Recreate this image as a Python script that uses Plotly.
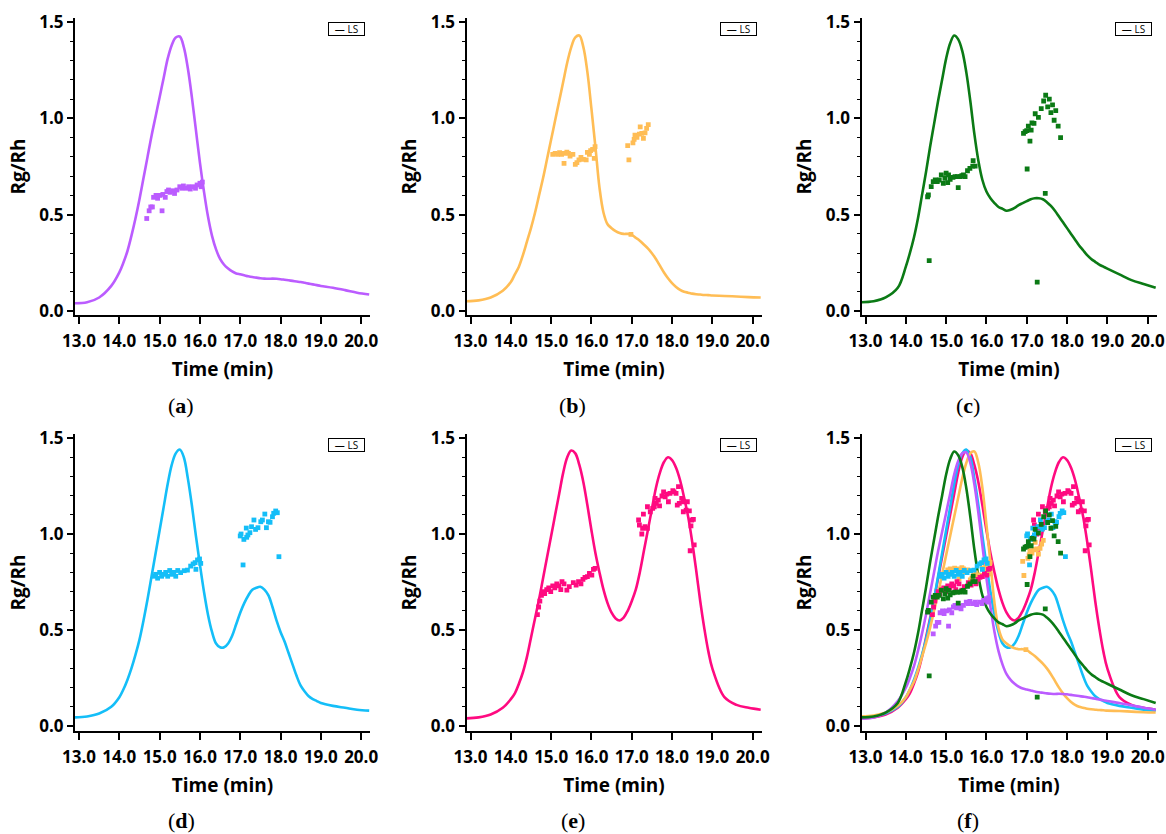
import plotly.graph_objects as go

# ---------------- data ----------------
TIME = [12.9, 13.2, 13.5, 13.8,
        14.0, 14.1, 14.2, 14.3, 14.4, 14.5, 14.6, 14.7, 14.8, 14.9,
        15.0, 15.1, 15.2, 15.3, 15.4, 15.5, 15.6, 15.7, 15.8, 15.9,
        16.0, 16.1, 16.2, 16.3, 16.4, 16.5, 16.6, 16.7, 16.8, 16.9,
        17.0, 17.1, 17.2, 17.3, 17.4, 17.5, 17.6, 17.7, 17.8, 17.9,
        18.0, 18.1, 18.2, 18.3, 18.4, 18.5, 18.6, 18.7, 18.8, 18.9,
        19.0, 19.3, 19.6, 19.9, 20.2]

LS_A = [0.04, 0.045, 0.07, 0.13,
        0.20, 0.25, 0.31, 0.39, 0.48, 0.58, 0.69, 0.80, 0.91, 1.01,
        1.11, 1.21, 1.31, 1.38, 1.42, 1.425, 1.37, 1.26, 1.11, 0.94,
        0.77, 0.62, 0.49, 0.39, 0.32, 0.27, 0.24, 0.22, 0.205, 0.195,
        0.19, 0.185, 0.18, 0.176, 0.173, 0.17, 0.168, 0.167, 0.168, 0.167,
        0.165, 0.162, 0.159, 0.156, 0.153, 0.15, 0.146, 0.142, 0.138, 0.134,
        0.13, 0.12, 0.108, 0.095, 0.085]

LS_B = [0.05, 0.055, 0.07, 0.105,
        0.15, 0.19, 0.23, 0.29, 0.36, 0.43, 0.51, 0.60, 0.69, 0.79,
        0.89, 0.99, 1.09, 1.19, 1.29, 1.37, 1.42, 1.43, 1.37, 1.24,
        1.05, 0.85, 0.64, 0.51, 0.45, 0.43, 0.415, 0.405, 0.40, 0.40,
        0.395, 0.38, 0.365, 0.345, 0.325, 0.30, 0.27, 0.235, 0.20, 0.17,
        0.145, 0.125, 0.11, 0.10, 0.095, 0.09, 0.087, 0.085, 0.083, 0.082,
        0.08, 0.078, 0.075, 0.072, 0.07]

LS_C = [0.045, 0.05, 0.07, 0.12,
        0.23, 0.30, 0.38, 0.48, 0.60, 0.72, 0.85, 0.97, 1.09, 1.20,
        1.31, 1.39, 1.43, 1.41, 1.35, 1.24, 1.09, 0.92, 0.78, 0.68,
        0.62, 0.585, 0.56, 0.54, 0.53, 0.52, 0.525, 0.535, 0.55, 0.56,
        0.57, 0.58, 0.585, 0.585, 0.58, 0.565, 0.545, 0.52, 0.49, 0.46,
        0.43, 0.40, 0.37, 0.34, 0.315, 0.29, 0.27, 0.255, 0.24, 0.23,
        0.22, 0.19, 0.16, 0.14, 0.12]

LS_D = [0.045, 0.05, 0.065, 0.10,
        0.15, 0.19, 0.24, 0.30, 0.37, 0.45, 0.55, 0.66, 0.78, 0.90,
        1.02, 1.14, 1.26, 1.36, 1.42, 1.44, 1.40, 1.29, 1.15, 0.99,
        0.84, 0.70, 0.58, 0.49, 0.43, 0.41, 0.41, 0.43, 0.47, 0.53,
        0.59, 0.64, 0.68, 0.71, 0.72, 0.725, 0.71, 0.68, 0.62, 0.55,
        0.49, 0.44, 0.38, 0.32, 0.26, 0.21, 0.18, 0.155, 0.14, 0.13,
        0.12, 0.105, 0.095, 0.085, 0.08]

LS_E = [0.04, 0.045, 0.06, 0.095,
        0.14, 0.17, 0.22, 0.28, 0.36, 0.46, 0.56, 0.66, 0.77, 0.88,
        0.99, 1.10, 1.21, 1.32, 1.40, 1.435, 1.42, 1.36, 1.27, 1.15,
        1.02, 0.90, 0.80, 0.71, 0.64, 0.59, 0.56, 0.55, 0.565, 0.60,
        0.65, 0.71, 0.80, 0.91, 1.02, 1.13, 1.24, 1.32, 1.375, 1.40,
        1.385, 1.345, 1.28, 1.19, 1.09, 0.96, 0.81, 0.65, 0.51, 0.39,
        0.30, 0.15, 0.11, 0.095, 0.085]

RG_A_T = [14.68, 14.74, 14.78, 14.82, 15.06, 14.85, 14.91, 14.95, 15.01, 15.08,
          15.14, 15.18, 15.22, 15.26, 15.33, 15.37, 15.43, 15.50, 15.55, 15.59,
          15.66, 15.72, 15.76, 15.83, 15.89, 15.93, 16.00, 16.03, 16.06]
RG_A_V = [0.48, 0.52, 0.54, 0.54, 0.52, 0.59, 0.60, 0.585, 0.60, 0.605,
          0.59, 0.62, 0.628, 0.616, 0.624, 0.61, 0.628, 0.645, 0.637, 0.649,
          0.637, 0.645, 0.633, 0.645, 0.637, 0.654, 0.663, 0.645, 0.669]

RG_B_T = [15.04, 15.10, 15.16, 15.21, 15.26, 15.32, 15.39, 15.43, 15.47, 15.54,
          15.32, 15.60, 15.64, 15.69, 15.74, 15.80, 15.87, 15.90, 15.95, 15.98,
          16.03, 16.09, 16.07, 16.90, 16.93, 17.03, 17.06, 17.08, 17.13, 17.19,
          17.25, 17.29, 17.33, 17.37, 17.41, 17.21, 16.98]
RG_B_V = [0.813, 0.818, 0.813, 0.822, 0.813, 0.818, 0.825, 0.818, 0.804, 0.813,
          0.766, 0.761, 0.770, 0.784, 0.797, 0.787, 0.784, 0.823, 0.813, 0.832,
          0.839, 0.853, 0.792, 0.858, 0.784, 0.873, 0.891, 0.913, 0.901, 0.918,
          0.922, 0.896, 0.925, 0.948, 0.967, 0.956, 0.398]

RG_C_T = [14.54, 14.56, 14.63, 14.68, 14.73, 14.78, 14.83, 14.88, 14.93, 14.97,
          15.00, 15.06, 15.04, 15.10, 15.17, 15.22, 15.28, 15.30, 15.35, 15.39,
          15.43, 15.47, 15.53, 15.59, 15.66, 15.72, 15.67, 14.58, 16.92, 16.96,
          17.00, 17.04, 17.13, 17.11, 17.08, 17.18, 17.21, 17.29, 17.01, 17.26,
          17.36, 17.42, 17.47, 17.52, 17.56, 17.60, 17.64, 17.68, 17.72, 17.78,
          17.84, 17.46]
RG_C_V = [0.593, 0.602, 0.645, 0.671, 0.680, 0.671, 0.680, 0.706, 0.662, 0.689,
          0.715, 0.706, 0.666, 0.683, 0.694, 0.697, 0.697, 0.640, 0.697, 0.702,
          0.706, 0.697, 0.728, 0.740, 0.752, 0.752, 0.780, 0.261, 0.922, 0.931,
          0.936, 0.960, 0.977, 0.939, 0.882, 0.974, 1.024, 1.005, 0.737, 0.150,
          1.05, 1.09, 1.12, 1.06, 1.10, 1.03, 1.07, 0.99, 1.04, 0.96,
          0.90, 0.61]

RG_D_T = [14.85, 14.90, 14.95, 15.00, 15.05, 15.10, 15.15, 15.20, 15.25, 15.30,
          15.35, 15.40, 15.45, 15.52, 15.61, 15.69, 15.77, 15.83, 15.88, 15.94,
          15.99, 15.90, 16.02, 17.00, 17.02, 17.09, 17.16, 17.19, 17.24, 17.15,
          17.28, 17.34, 17.38, 17.44, 17.51, 17.55, 17.61, 17.65, 17.70, 17.74,
          17.80, 17.83, 17.88, 17.92, 17.07, 17.96]
RG_D_V = [0.78, 0.79, 0.77, 0.80, 0.78, 0.79, 0.80, 0.78, 0.81, 0.79,
          0.80, 0.78, 0.81, 0.799, 0.809, 0.812, 0.833, 0.844, 0.851, 0.865,
          0.870, 0.816, 0.847, 0.990, 1.000, 0.972, 0.983, 0.995, 1.007, 1.031,
          1.038, 1.073, 1.024, 1.033, 1.064, 1.073, 1.104, 1.033, 1.064, 1.061,
          1.090, 1.108, 1.120, 1.111, 0.839, 0.882]

RG_E_T = [14.66, 14.69, 14.72, 14.76, 14.80, 14.84, 14.89, 14.94, 14.99, 15.04,
          15.09, 15.14, 15.19, 15.24, 15.27, 15.32, 15.39, 15.45, 15.55, 15.62,
          15.68, 15.74, 15.79, 15.84, 15.90, 15.95, 16.01, 16.05, 16.09, 17.17,
          17.19, 17.27, 17.25, 17.33, 17.39, 17.29, 17.39, 17.46, 17.52, 17.56,
          17.61, 17.66, 17.58, 17.69, 17.75, 17.79, 17.83, 17.87, 17.91, 17.95,
          18.02, 18.05, 18.10, 18.16, 18.13, 18.18, 18.24, 18.28, 18.28, 18.35,
          18.38, 18.43, 18.49, 18.53, 18.47, 18.55, 18.45]
RG_E_V = [0.58, 0.62, 0.65, 0.68, 0.70, 0.69, 0.71, 0.72, 0.70, 0.73,
          0.72, 0.74, 0.73, 0.71, 0.752, 0.740, 0.708, 0.726, 0.747, 0.734,
          0.752, 0.740, 0.764, 0.774, 0.778, 0.795, 0.786, 0.816, 0.821, 1.073,
          1.047, 1.030, 1.000, 1.038, 1.030, 1.104, 1.142, 1.116, 1.134, 1.142,
          1.160, 1.177, 1.186, 1.147, 1.198, 1.220, 1.194, 1.208, 1.168, 1.212,
          1.226, 1.220, 1.212, 1.247, 1.151, 1.160, 1.186, 1.168, 1.116, 1.125,
          1.168, 1.121, 1.073, 1.076, 1.042, 0.943, 0.913]

COLORS = {"a": "#BB5CFF", "b": "#FFBD55", "c": "#0B7A15", "d": "#14BEF8", "e": "#FF0A80"}
SERIES = {"a": (LS_A, RG_A_T, RG_A_V), "b": (LS_B, RG_B_T, RG_B_V),
          "c": (LS_C, RG_C_T, RG_C_V), "d": (LS_D, RG_D_T, RG_D_V),
          "e": (LS_E, RG_E_T, RG_E_V)}
PANELS = ["a", "b", "c", "d", "e", "f"]
X_TICKS = [13.0, 14.0, 15.0, 16.0, 17.0, 18.0, 19.0, 20.0]
Y_TICKS = [0.0, 0.5, 1.0, 1.5]

# ---------------- layout geometry (page pixels) ----------------
W, H = 1166, 834
COL_LEFT = [75, 466.5, 861.5]
PW = 295
ROWS = [(18, 315), (434, 731)]
Y_RANGES = [[-0.021, 1.521], [-0.026, 1.521]]
X_RANGE = [12.9, 20.22]
CAPTION_Y = [405, 820]

TICKFONT = dict(family="Open Sans", size=17, color="black", weight="bold")
TITLEFONT = dict(family="Open Sans", size=19, color="black", weight="bold")

fig = go.Figure()


def add_series(key, axis_idx, line_only=False, scatter_only=False):
    ls, tt, vv = SERIES[key]
    xa = "x" if axis_idx == 1 else f"x{axis_idx}"
    ya = "y" if axis_idx == 1 else f"y{axis_idx}"
    if not scatter_only:
        fig.add_trace(go.Scatter(x=TIME, y=ls, mode="lines", xaxis=xa, yaxis=ya,
                                 line=dict(color=COLORS[key], width=2.6, shape="spline", smoothing=1.0),
                                 showlegend=False, name="LS"))
    if not line_only:
        fig.add_trace(go.Scatter(x=tt, y=vv, mode="markers", xaxis=xa, yaxis=ya,
                                 marker=dict(color=COLORS[key], symbol="square", size=4.8, line=dict(width=0)),
                                 showlegend=False, name="Rg/Rh"))


for i, key in enumerate(["a", "b", "c", "d", "e"]):
    add_series(key, i + 1)

for key in ["e", "d", "b", "a", "c"]:
    add_series(key, 6, line_only=True)
for key in ["a", "b", "e", "d", "c"]:
    add_series(key, 6, scatter_only=True)

layout = dict(template="none", width=W, height=H,
              margin=dict(l=0, r=0, t=0, b=0, autoexpand=False),
              paper_bgcolor="white", plot_bgcolor="white", showlegend=False)
annotations = []
for i, p in enumerate(PANELS):
    r, c = divmod(i, 3)
    top, bot = ROWS[r]
    left = COL_LEFT[c]
    n = "" if i == 0 else str(i + 1)
    layout["xaxis" + n] = dict(
        domain=[left / W, (left + PW) / W], anchor="y" + n, range=X_RANGE, automargin=False,
        tickvals=X_TICKS, tickformat=".1f", showline=True, linecolor="black", linewidth=2,
        ticks="outside", ticklen=7, tickwidth=1.5, tickcolor="black", tickfont=TICKFONT,
        ticklabelstandoff=3, showgrid=False, zeroline=False,
        title=dict(text="Time (min)", font=TITLEFONT, standoff=11))
    layout["yaxis" + n] = dict(
        domain=[1 - bot / H, 1 - top / H], anchor="x" + n, range=Y_RANGES[r], automargin=False,
        tickvals=Y_TICKS, tickformat=".1f", showline=True, linecolor="black", linewidth=2,
        ticks="outside", ticklen=6, tickwidth=1.5, tickcolor="black", tickfont=TICKFONT,
        minor=dict(dtick=0.1, tick0=0, ticks="outside", ticklen=3, tickwidth=1, tickcolor="black"),
        showgrid=False, zeroline=False,
        title=dict(text="Rg/Rh", font=TITLEFONT, standoff=9))
    # legend box
    annotations.append(dict(text="— LS", xref="paper", yref="paper",
                            x=(left + PW - 5) / W, y=1 - (top + 4) / H,
                            xanchor="right", yanchor="top", showarrow=False,
                            font=dict(family="Open Sans", size=10, color="black"),
                            bordercolor="black", borderwidth=1, borderpad=0,
                            width=35, height=12, bgcolor="white"))
    # caption
    annotations.append(dict(text=f"(<b>{p}</b>)", xref="paper", yref="paper",
                            x=(left + 106) / W, y=1 - CAPTION_Y[r] / H,
                            xanchor="center", yanchor="middle", showarrow=False,
                            font=dict(family="Liberation Serif", size=22, color="black")))
layout["annotations"] = annotations
fig.update_layout(**layout)

# remove the default page margin so the figure sits at the window origin
fig.write_html("out.html",
               config={"displayModeBar": False},
               post_script="document.body.style.margin='0px';document.body.style.overflow='hidden';")
